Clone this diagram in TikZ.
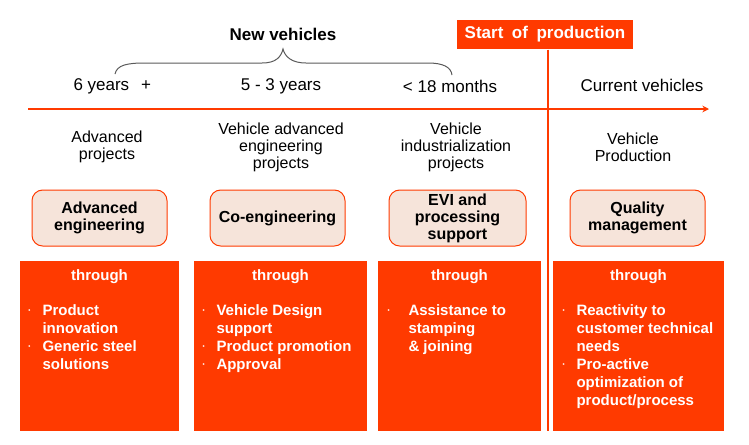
\documentclass[tikz,border=0pt]{standalone}
\usepackage{fontspec}
\setmainfont{Liberation Sans}
\usetikzlibrary{arrows.meta}
\definecolor{sopOrange}{HTML}{FF3A00}
\definecolor{boxFill}{HTML}{F6E4DA}
\definecolor{braceGray}{HTML}{5A5A5A}
\newcommand{\bul}{\raisebox{0.35ex}{\scalebox{0.4}{\textbullet}}}
\tikzset{every picture/.style={line width=0.75pt}}

\begin{document}
\begin{tikzpicture}[x=0.75pt,y=0.75pt,yscale=-1,xscale=1,
	timelbl/.style={font=\fontsize{12.75}{14}\selectfont},
	projlbl/.style={font=\fontsize{12}{12.75}\selectfont, align=center},
	rbox/.style={draw=sopOrange, fill=boxFill, rounded corners=8pt, line width=0.75pt,
		font=\bfseries\fontsize{12}{12.75}\selectfont, align=center, inner sep=0pt},
	obox/.style={fill=sopOrange, inner sep=0pt},
	otext/.style={text=white, font=\bfseries\fontsize{11.25}{13.5}\selectfont, inner sep=0pt}]
	\useasboundingbox (0,0) rectangle (749,444);

	%Shape: Rectangle [Start of production]
	\node (sop) [fill=sopOrange, text=white, font=\bfseries\fontsize{12.75}{14}\selectfont,
		minimum width=132pt, minimum height=21.75pt, inner sep=0pt] at (545,34.5)
		{Start\hspace{0.5em}of\hspace{0.5em}production};
	% Text Node
	\node (newveh) [font=\bfseries\fontsize{12.75}{14}\selectfont] at (283,34) {New vehicles};

	%Curve Lines [brace]
	\draw [braceGray] (115,74) .. controls (117,65) and (127,63) .. (145,63) -- (262,63)
		.. controls (276,63) and (281,57) .. (283,49) .. controls (285,57) and (292,63) .. (306,63)
		-- (428,63) .. controls (443,63) and (451,67) .. (452,75) ;

	% Text Node
	\node (yrs6) [timelbl, anchor=west, inner sep=0pt] at (73,86) {6 years\hspace{9pt}+};
	% Text Node
	\node (yrs53) [timelbl] at (281,86) {5 - 3 years};
	% Text Node
	\node (mon18) [timelbl] at (450,86) {< 18 months};
	% Text Node
	\node (curveh) [timelbl] at (642,85) {Current vehicles};

	%Straight Lines [time axis]
	\coordinate (tStart) at (28,109);
	\coordinate (tEnd) at (709,109);
	\draw [sopOrange, line width=1.5pt, -{Stealth[length=5pt,width=5pt]}] (tStart) -- (tEnd) ;
	%Straight Lines [start of production]
	\coordinate (sopEnd) at (548,431);
	\draw [sopOrange, line width=1.5pt] (sop.south -| sopEnd) -- (sopEnd) ;

	% Text Node
	\node (advproj) [projlbl] at (107,147) {Advanced\\projects};
	% Text Node
	\node (vaeproj) [projlbl] at (281,147) {Vehicle advanced\\engineering\\projects};
	% Text Node
	\node (viproj) [projlbl] at (456,147) {Vehicle\\industrialization\\projects};
	% Text Node
	\node (vprod) [projlbl] at (633,147) {Vehicle\\Production};

	%Rounded Rect
	\node (adveng) [rbox, minimum width=101.25pt, minimum height=42pt] at (99.5,218) {Advanced\\engineering};
	%Rounded Rect
	\node (coeng) [rbox, minimum width=101.25pt, minimum height=42pt] at (277.5,218) {Co-engineering};
	%Rounded Rect
	\node (evi) [rbox, minimum width=102.75pt, minimum height=42pt] at (457.5,218) {EVI and\\processing\\support};
	%Rounded Rect
	\node (qual) [rbox, minimum width=101.25pt, minimum height=42pt] at (637.5,218) {Quality\\management};

	%Shape: Rectangle
	\node (thr1) [obox, minimum width=119.25pt, minimum height=127.5pt] at (99.5,346) {};
	%Shape: Rectangle
	\node (thr2) [obox, minimum width=129.75pt, minimum height=127.5pt] at (280.5,346) {};
	%Shape: Rectangle
	\node (thr3) [obox, minimum width=122.25pt, minimum height=127.5pt] at (459.5,346) {};
	%Shape: Rectangle
	\node (thr4) [obox, minimum width=128.25pt, minimum height=127.5pt] at (638.5,346) {};

	% Text Node
	\node (thr1t) [otext, anchor=base] at (99.5,280) {through};
	\node (thr2t) [otext, anchor=base] at (280.5,280) {through};
	\node (thr3t) [otext, anchor=base] at (459.5,280) {through};
	\node (thr4t) [otext, anchor=base] at (638.5,280) {through};

	% Text Node
	\node (lst1) [otext, anchor=base west] at (28,315) {\begin{tabular}[t]{@{}p{10.5pt}@{}l@{}}
		\bul & Product\\ & innovation\\ \bul & Generic steel\\ & solutions\end{tabular}};
	% Text Node
	\node (lst2) [otext, anchor=base west] at (202,315) {\begin{tabular}[t]{@{}p{10.5pt}@{}l@{}}
		\bul & Vehicle Design\\ & support\\ \bul & Product promotion\\ \bul & Approval\end{tabular}};
	% Text Node
	\node (lst3) [otext, anchor=base west] at (387,315) {\begin{tabular}[t]{@{}p{15.75pt}@{}l@{}}
		\bul & Assistance to\\ & stamping\\ & \& joining\end{tabular}};
	% Text Node
	\node (lst4) [otext, anchor=base west] at (562,315) {\begin{tabular}[t]{@{}p{10.5pt}@{}l@{}}
		\bul & Reactivity to\\ & customer technical\\ & needs\\ \bul & Pro-active\\ & optimization of\\ & product/process\end{tabular}};

\end{tikzpicture}
\end{document}
